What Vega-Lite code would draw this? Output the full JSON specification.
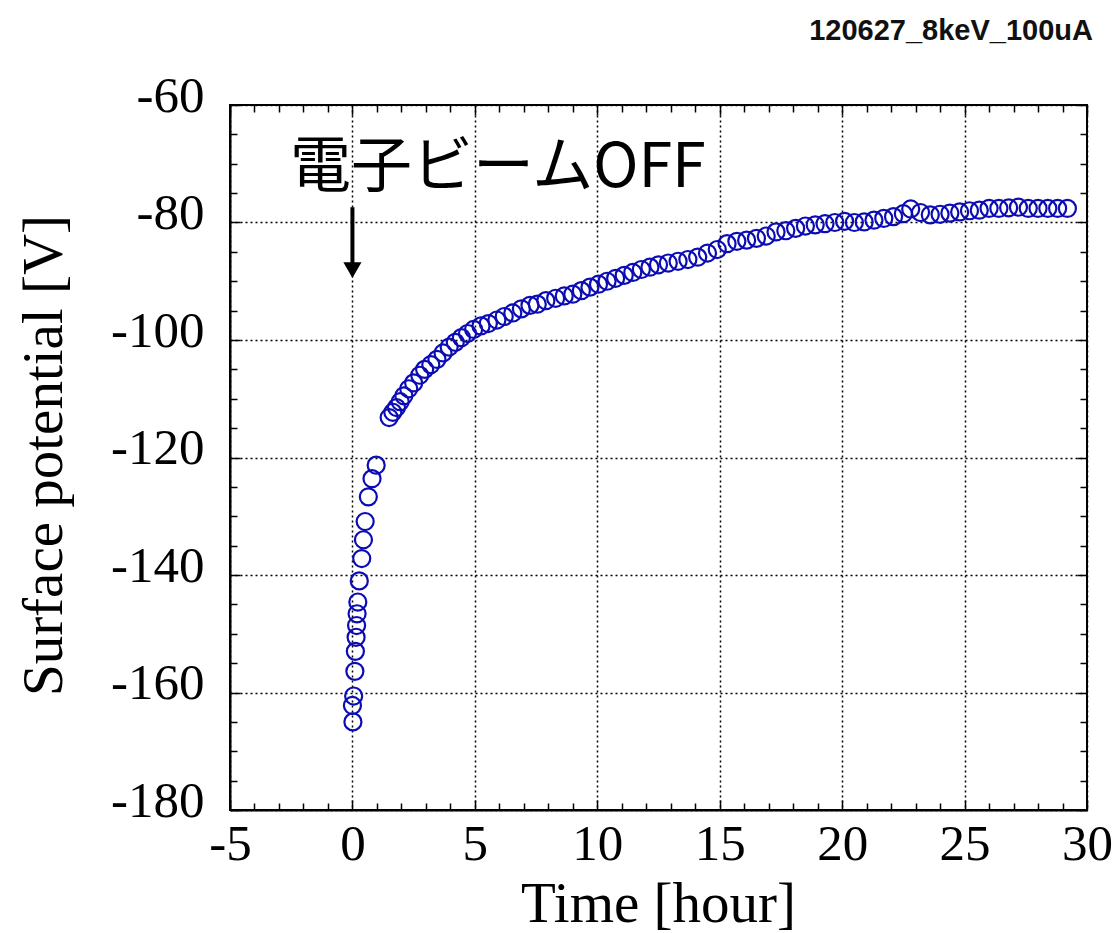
{
  "$schema": "https://vega.github.io/schema/vega-lite/v6.json",
  "autosize": {"type": "none"},
  "width": 857,
  "height": 705,
  "padding": {"left": 230, "top": 105, "right": 32, "bottom": 123},
  "background": "white",
  "config": {
    "view": {"stroke": "black", "strokeWidth": 2},
    "axis": {"labelFont": "Liberation Serif", "titleFont": "Liberation Serif", "labelColor": "black", "titleColor": "black", "tickColor": "black", "domainColor": "black", "domainWidth": 2, "tickWidth": 1.5, "titleFontWeight": "normal"}
  },
  "datasets": {
    "pts": [
      {"t": 0.02, "v": -165.0}, {"t": 0.0, "v": -162.2}, {"t": 0.05, "v": -160.6},
      {"t": 0.1, "v": -156.4}, {"t": 0.12, "v": -153.0}, {"t": 0.15, "v": -150.6},
      {"t": 0.17, "v": -148.6}, {"t": 0.19, "v": -146.6}, {"t": 0.22, "v": -144.6},
      {"t": 0.28, "v": -141.0}, {"t": 0.38, "v": -137.2}, {"t": 0.45, "v": -134.0},
      {"t": 0.52, "v": -130.9}, {"t": 0.65, "v": -126.7}, {"t": 0.8, "v": -123.6},
      {"t": 0.97, "v": -121.3},
      {"t": 1.5, "v": -113.2}, {"t": 1.65, "v": -112.3}, {"t": 1.8, "v": -111.5},
      {"t": 1.95, "v": -110.5}, {"t": 2.1, "v": -109.5}, {"t": 2.3, "v": -108.3},
      {"t": 2.5, "v": -107.3}, {"t": 2.75, "v": -106.0}, {"t": 2.95, "v": -105.0},
      {"t": 3.2, "v": -104.2}, {"t": 3.45, "v": -103.3}, {"t": 3.7, "v": -102.2},
      {"t": 3.95, "v": -101.2}, {"t": 4.2, "v": -100.4}, {"t": 4.45, "v": -99.6},
      {"t": 4.7, "v": -98.9}, {"t": 4.95, "v": -98.2}, {"t": 5.25, "v": -97.6},
      {"t": 5.55, "v": -97.2}, {"t": 5.9, "v": -96.6}, {"t": 6.2, "v": -96.0},
      {"t": 6.55, "v": -95.4}, {"t": 6.9, "v": -94.7}, {"t": 7.25, "v": -94.1},
      {"t": 7.55, "v": -93.9}, {"t": 7.9, "v": -93.3}, {"t": 8.3, "v": -92.9},
      {"t": 8.65, "v": -92.5}, {"t": 9.0, "v": -92.2}, {"t": 9.35, "v": -91.6},
      {"t": 9.7, "v": -91.0}, {"t": 10.05, "v": -90.5}, {"t": 10.4, "v": -90.0},
      {"t": 10.75, "v": -89.5}, {"t": 11.1, "v": -89.0}, {"t": 11.45, "v": -88.5},
      {"t": 11.8, "v": -88.0}, {"t": 12.15, "v": -87.6}, {"t": 12.5, "v": -87.2},
      {"t": 12.9, "v": -86.9}, {"t": 13.3, "v": -86.6}, {"t": 13.7, "v": -86.3},
      {"t": 14.1, "v": -85.9}, {"t": 14.5, "v": -85.2}, {"t": 14.9, "v": -84.6},
      {"t": 15.3, "v": -83.6}, {"t": 15.7, "v": -83.2}, {"t": 16.1, "v": -83.0},
      {"t": 16.5, "v": -82.7}, {"t": 16.9, "v": -82.3}, {"t": 17.3, "v": -81.6},
      {"t": 17.7, "v": -81.4}, {"t": 18.1, "v": -81.0}, {"t": 18.5, "v": -80.6},
      {"t": 18.9, "v": -80.4}, {"t": 19.3, "v": -80.2}, {"t": 19.7, "v": -80.0},
      {"t": 20.1, "v": -79.8}, {"t": 20.5, "v": -80.0}, {"t": 20.9, "v": -79.9},
      {"t": 21.3, "v": -79.6}, {"t": 21.7, "v": -79.3}, {"t": 22.1, "v": -79.0},
      {"t": 22.5, "v": -78.5}, {"t": 22.8, "v": -77.7}, {"t": 23.2, "v": -78.3},
      {"t": 23.6, "v": -78.7}, {"t": 24.0, "v": -78.6}, {"t": 24.4, "v": -78.4},
      {"t": 24.8, "v": -78.2}, {"t": 25.2, "v": -78.0}, {"t": 25.6, "v": -77.9},
      {"t": 26.0, "v": -77.6}, {"t": 26.4, "v": -77.6}, {"t": 26.8, "v": -77.5},
      {"t": 27.2, "v": -77.4}, {"t": 27.6, "v": -77.6}, {"t": 28.0, "v": -77.6},
      {"t": 28.4, "v": -77.6}, {"t": 28.8, "v": -77.6}, {"t": 29.2, "v": -77.6}
    ]
  },
  "resolve": {"axis": {"x": "independent", "y": "independent"}},
  "layer": [
    {
      "data": {"name": "pts"},
      "mark": {"type": "point", "shape": "circle", "filled": false, "stroke": "#0c0cb4", "strokeWidth": 2.2, "size": 290, "opacity": 1},
      "encoding": {
        "x": {"field": "t", "type": "quantitative", "scale": {"domain": [-5, 30], "nice": false, "zero": false},
          "axis": {"orient": "bottom", "title": "Time [hour]", "values": [-5, 0, 5, 10, 15, 20, 25, 30], "labelExpr": "datum.value < 0 ? '-' + abs(datum.value) : '' + datum.value", "labelFontSize": 51, "labelPadding": 19, "tickSize": -10, "labelFlush": false, "labelOverlap": false, "grid": true, "gridColor": "black", "gridDash": [2, 3], "gridWidth": 1.5, "titleFontSize": 57, "titleBaseline": "alphabetic", "titleY": 111, "titleX": 428}},
        "y": {"field": "v", "type": "quantitative", "scale": {"domain": [-180, -60], "nice": false, "zero": false},
          "axis": {"orient": "left", "title": "Surface potential [V]", "values": [-180, -160, -140, -120, -100, -80, -60], "labelExpr": "datum.value < 0 ? '-' + abs(datum.value) : '' + datum.value", "labelFontSize": 51, "labelPadding": 36, "labelOffset": -9, "tickSize": -10, "labelFlush": false, "labelOverlap": false, "grid": true, "gridColor": "black", "gridDash": [2, 3], "gridWidth": 1.5, "titleFontSize": 57, "titleAngle": -90, "titleAlign": "center", "titleBaseline": "middle", "titleX": -186, "titleY": 350}}
      }
    },
    {
      "data": {"name": "pts"},
      "mark": {"type": "point", "opacity": 0},
      "encoding": {
        "x": {"field": "t", "type": "quantitative", "axis": {"orient": "top", "title": null, "values": [-5, 0, 5, 10, 15, 20, 25, 30], "labels": false, "tickSize": -10, "domain": false, "grid": false}},
        "y": {"field": "v", "type": "quantitative", "axis": {"orient": "right", "title": null, "values": [-180, -160, -140, -120, -100, -80, -60], "labels": false, "tickSize": -10, "domain": false, "grid": false}}
      }
    },
    {
      "data": {"name": "pts"},
      "mark": {"type": "point", "opacity": 0},
      "encoding": {
        "x": {"field": "t", "type": "quantitative", "axis": {"orient": "bottom", "title": null, "values": [-4, -3, -2, -1, 1, 2, 3, 4, 6, 7, 8, 9, 11, 12, 13, 14, 16, 17, 18, 19, 21, 22, 23, 24, 26, 27, 28, 29], "labels": false, "tickSize": -7, "domain": false, "grid": false}},
        "y": {"field": "v", "type": "quantitative", "axis": {"orient": "left", "title": null, "values": [-175, -170, -165, -155, -150, -145, -135, -130, -125, -115, -110, -105, -95, -90, -85, -75, -70, -65], "labels": false, "tickSize": -7, "domain": false, "grid": false}}
      }
    },
    {
      "data": {"name": "pts"},
      "mark": {"type": "point", "opacity": 0},
      "encoding": {
        "x": {"field": "t", "type": "quantitative", "axis": {"orient": "top", "title": null, "values": [-4, -3, -2, -1, 1, 2, 3, 4, 6, 7, 8, 9, 11, 12, 13, 14, 16, 17, 18, 19, 21, 22, 23, 24, 26, 27, 28, 29], "labels": false, "tickSize": -7, "domain": false, "grid": false}},
        "y": {"field": "v", "type": "quantitative", "axis": {"orient": "right", "title": null, "values": [-175, -170, -165, -155, -150, -145, -135, -130, -125, -115, -110, -105, -95, -90, -85, -75, -70, -65], "labels": false, "tickSize": -7, "domain": false, "grid": false}}
      }
    },
    {
      "data": {"values": [{"label": "電子ビームOFF"}]},
      "mark": {"type": "text", "font": "Noto Sans CJK JP", "fontSize": 61, "align": "left", "baseline": "alphabetic", "color": "black"},
      "encoding": {"text": {"field": "label"}, "x": {"datum": -2.55, "type": "quantitative", "axis": null}, "y": {"datum": -73.96, "type": "quantitative", "axis": null}}
    },
    {
      "data": {"values": [{"label": "120627_8keV_100uA"}]},
      "mark": {"type": "text", "font": "Liberation Sans", "fontWeight": "bold", "fontSize": 29, "align": "right", "baseline": "alphabetic", "color": "#111", "dx": 6},
      "encoding": {"text": {"field": "label"}, "x": {"datum": 30, "type": "quantitative", "axis": null}, "y": {"datum": -48.94, "type": "quantitative", "axis": null}}
    },
    {
      "data": {"values": [{}]},
      "mark": {"type": "rule", "color": "black", "strokeWidth": 4},
      "encoding": {"x": {"datum": 0, "type": "quantitative", "axis": null}, "y": {"datum": -77.4, "type": "quantitative", "axis": null}, "y2": {"datum": -87.0}}
    },
    {
      "data": {"values": [{}]},
      "mark": {"type": "point", "shape": "triangle-down", "filled": true, "color": "black", "size": 330, "opacity": 1},
      "encoding": {"x": {"datum": 0, "type": "quantitative", "axis": null}, "y": {"datum": -88.1, "type": "quantitative", "axis": null}}
    }
  ]
}
